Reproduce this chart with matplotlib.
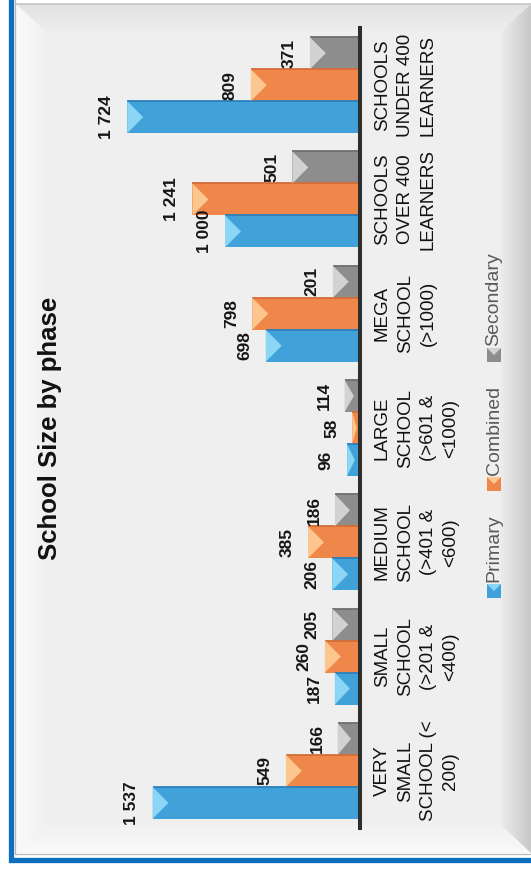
import numpy as np
import matplotlib
matplotlib.use('Agg')
import matplotlib.pyplot as plt
from matplotlib.colors import to_rgb
from matplotlib.patches import Polygon, Rectangle

categories = ['VERY\nSMALL\nSCHOOL (<\n200)', 'SMALL\nSCHOOL\n(>201 &\n<400)',
              'MEDIUM\nSCHOOL\n(>401 &\n<600)', 'LARGE\nSCHOOL\n(>601 &\n<1000)',
              'MEGA\nSCHOOL\n(>1000)', 'SCHOOLS\nOVER 400\nLEARNERS',
              'SCHOOLS\nUNDER 400\nLEARNERS']
primary = [1537, 187, 206, 96, 698, 1000, 1724]
combined = [549, 260, 385, 58, 798, 1241, 809]
secondary = [166, 205, 186, 114, 201, 501, 371]
series_names = ['Primary', 'Combined', 'Secondary']

# main, bevel highlight, top edge
palette = [('#41a2da', '#8ad6f4', '#2c7fba'),
           ('#f0874a', '#fcc68e', '#d36d35'),
           ('#8d8d8d', '#d2d2d2', '#6e6e6e')]

plt.rcParams['font.family'] = ['Liberation Sans', 'DejaVu Sans']

W, H = 531, 872
fig = plt.figure(figsize=(W / 100, H / 100), dpi=100, facecolor='white')

# background frame drawn in pixel coordinates
bg = fig.add_axes([0, 0, 1, 1], zorder=0)
bg.axis('off')


def shade(pts, c0, c1, horizontal):
    patch = Polygon(pts, closed=True, facecolor='none', edgecolor='none')
    bg.add_patch(patch)
    xs = [p[0] for p in pts]
    ys = [p[1] for p in pts]
    g = np.linspace(0, 1, 64)
    a, b = np.array(to_rgb(c0)), np.array(to_rgb(c1))
    if horizontal:
        rgb = (a + (b - a) * g[:, None])[None, :, :]
    else:
        rgb = (a + (b - a) * g[:, None])[:, None, :]
    im = bg.imshow(rgb, extent=(min(xs), max(xs), max(ys), min(ys)),
                   aspect='auto', interpolation='bilinear', zorder=1)
    im.set_clip_path(patch)


L, T, R, B = 16, 4, 531, 853
L2, T2, R2, B2 = 46, 32, 500, 824
bg.add_patch(Rectangle((L2, T2), R2 - L2, B2 - T2, facecolor='#efefef', edgecolor='none', zorder=1))
shade([(L, T), (R, T), (R2, T2), (L2, T2)], '#e2e2e2', '#eeeeee', False)
shade([(L, T), (L2, T2), (L2, B2), (L, B)], '#fafafa', '#f1f1f1', True)
shade([(L, B), (L2, B2), (R2, B2), (R, B)], '#f1f1f1', '#f9f9f9', False)
shade([(R, T), (R, B), (R2, B2), (R2, T2)], '#ededed', '#c8c8c8', True)
bg.plot([L, R], [T, T], color='#c6c6c6', lw=1.2, zorder=2)
bg.plot([15, 15, R], [0, 854, 854], color='#b8b8b8', lw=0.9, zorder=2)
bg.add_patch(Rectangle((10.5, -20), 600, 879.5, facecolor='none', edgecolor='#0f6fbf', lw=3.8, zorder=2))

# legend
legend_rows = [(584, 582), (477, 475), (348, 346)]
for name, (main, light, dark), (sq, ty) in zip(series_names, palette, legend_rows):
    bg.add_patch(Rectangle((487, sq), 14, 14, facecolor=main, edgecolor='none', zorder=3))
    bg.add_patch(Polygon([(487, sq), (501, sq), (494, sq + 7)], facecolor=light, edgecolor='none', zorder=3))
    bg.text(494, ty, name, rotation=90, ha='center', va='bottom', fontsize=14, color='#5a5a5a', zorder=3)

bg.set_xlim(0, W)
bg.set_ylim(H, 0)

ax = fig.add_axes([90 / W, 44 / H, 270 / W, 800 / H], zorder=2)
ax.set_facecolor('none')

ypos = np.arange(len(categories))
h = 0.28
bevel = 118

for values, off, (main, light, dark) in zip([primary, combined, secondary], [-h, 0, h], palette):
    bars = ax.barh(ypos + off, values, height=h, color=main, edgecolor='none', zorder=3)
    for bar, v in zip(bars, values):
        y0 = bar.get_y()
        y1 = y0 + bar.get_height()
        yc = (y0 + y1) / 2
        d = min(bevel, v * 0.6)
        ax.plot([v, 0], [y1, y1], color=dark, lw=1.3, zorder=4, solid_capstyle='butt')
        ax.add_patch(Polygon([(v, y0), (v, y1), (v - d, yc)], closed=True,
                             facecolor=light, edgecolor='none', zorder=4))
        ax.annotate(f'{v:,}'.replace(',', ' '), (v, yc), xytext=(-9.5, 0), textcoords='offset points',
                    rotation=90, ha='right', va='center', fontsize=12.5, fontweight='bold',
                    color='#161616', zorder=5)

ax.set_xlim(2000, 0)
ax.set_ylim(-0.5, 6.5)
ax.set_xticks([])
for side in ['top', 'bottom', 'left']:
    ax.spines[side].set_visible(False)
ax.spines['right'].set_linewidth(2.9)
ax.spines['right'].set_color('#2e2e2e')
ax.spines['right'].set_zorder(6)
ax.yaxis.tick_right()
ax.set_yticks(ypos)
ax.set_yticklabels(categories, rotation=90, ha='left', va='center', multialignment='center',
                   fontsize=13.5, color='#111111', linespacing=1.45)
ax.tick_params(axis='y', length=0, pad=10)

fig.text(50 / W, 1 - 428 / H, 'School Size by phase', rotation=90, ha='center', va='center',
         fontsize=18.5, fontweight='bold', color='#111111')

fig.savefig('out.png', dpi=100, facecolor='white')
